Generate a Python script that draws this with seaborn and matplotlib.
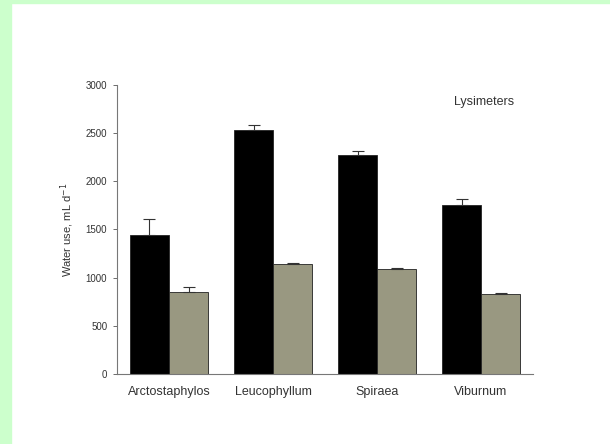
import pandas as pd
import matplotlib.pyplot as plt
import matplotlib.patches as mpatches
import seaborn as sns

species = ["Arctostaphylos", "Leucophyllum", "Spiraea", "Viburnum"]
groups = ["A", "B"]
water_a = [1440, 2530, 2270, 1750]
err_a = [165, 50, 45, 70]
water_b = [855, 1140, 1085, 832]
err_b = [50, 10, 10, 10]

df = pd.DataFrame({
    "species": species * 2,
    "group": [groups[0]] * 4 + [groups[1]] * 4,
    "water": water_a + water_b,
    "err": err_a + err_b,
})

sns.set_style("ticks")
plt.rcParams["font.family"] = ["Liberation Sans", "DejaVu Sans"]

fig = plt.figure(figsize=(6.1, 4.44), dpi=100)
ax = fig.add_axes([0.1918, 0.1577, 0.682, 0.651])

# green page border
fig.patches.append(mpatches.Rectangle((0, 0), 11 / 610, 1, transform=fig.transFigure,
                                      color="#ccffcc", zorder=-1))
fig.patches.append(mpatches.Rectangle((0, 1 - 3 / 444), 1, 3 / 444, transform=fig.transFigure,
                                      color="#ccffcc", zorder=-1))

sns.barplot(data=df, x="species", y="water", hue="group", palette=["#000000", "#9d9b7d"],
            errorbar=None, width=0.75, edgecolor="#222222", linewidth=0.6, legend=False, ax=ax)

for cont, g in zip(ax.containers, groups):
    sub = df[df.group == g]
    xs = [p.get_x() + p.get_width() / 2 for p in cont.patches]
    ax.errorbar(xs, sub.water.values, yerr=[[0] * len(sub), sub.err.values], fmt="none",
                ecolor="#333333", elinewidth=0.8, capsize=4, capthick=0.8)

ax.set_xlim(-0.5, 3.5)
ax.set_ylim(0, 3000)
ax.set_yticks(range(0, 3001, 500))
ax.set_xlabel("")
ax.set_ylabel("Water use, mL d$^{-1}$", fontsize=8, labelpad=7, color="#333333")
ax.tick_params(axis="y", labelsize=7, length=3, width=0.6, color="#555555", pad=4,
               labelcolor="#333333")
ax.tick_params(axis="x", labelsize=9, length=0, pad=9, labelcolor="#333333")
for s in ["top", "right"]:
    ax.spines[s].set_visible(False)
for s in ["left", "bottom"]:
    ax.spines[s].set_color("#777777")
    ax.spines[s].set_linewidth(0.8)

ax.text(0.955, 0.94, "Lysimeters", transform=ax.transAxes, fontsize=9, ha="right", va="center",
        color="#333333")

fig.savefig("out.png", dpi=100)
